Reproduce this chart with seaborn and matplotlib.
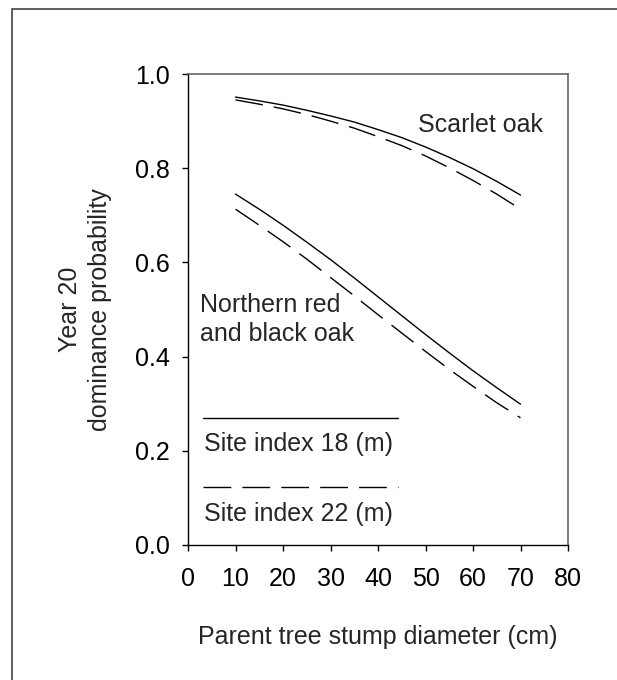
import matplotlib
matplotlib.use("Agg")
import matplotlib.pyplot as plt
import matplotlib.patches as mpatches
import seaborn as sns
import pandas as pd

diameter = [10, 15, 20, 25, 30, 35, 40, 45, 50, 55, 60, 65, 70]
scarlet_si18 = [0.951, 0.943, 0.934, 0.923, 0.911, 0.898, 0.882, 0.865, 0.845, 0.823, 0.799, 0.772, 0.743]
scarlet_si22 = [0.945, 0.936, 0.926, 0.914, 0.900, 0.885, 0.867, 0.848, 0.826, 0.801, 0.774, 0.745, 0.713]
redblack_si18 = [0.745, 0.713, 0.679, 0.643, 0.606, 0.567, 0.527, 0.487, 0.447, 0.408, 0.370, 0.334, 0.299]
redblack_si22 = [0.713, 0.679, 0.644, 0.607, 0.568, 0.529, 0.489, 0.450, 0.411, 0.373, 0.337, 0.302, 0.270]

x_ticks = [0, 10, 20, 30, 40, 50, 60, 70, 80]
y_ticks = [0.0, 0.2, 0.4, 0.6, 0.8, 1.0]
legend_labels = ["Site index 18 (m)", "Site index 22 (m)"]

rows = []
for sp, si, vals in [("Scarlet", "18", scarlet_si18), ("Scarlet", "22", scarlet_si22),
                     ("RedBlack", "18", redblack_si18), ("RedBlack", "22", redblack_si22)]:
    for d, v in zip(diameter, vals):
        rows.append({"diameter": d, "prob": v, "species": sp, "site": si, "grp": sp + si})
df = pd.DataFrame(rows)

sns.set_style("white")
plt.rcParams["font.family"] = ["Liberation Sans", "DejaVu Sans"]

FS = 18

fig = plt.figure(figsize=(6.17, 6.8), dpi=100)
ax = fig.add_axes([188/617, 1-545/680, (568-188)/617, (545-74)/680])

sns.lineplot(data=df, x="diameter", y="prob", style="site", units="grp", estimator=None,
             color="black", dashes={"18": "", "22": (20, 8)}, linewidth=1.0,
             legend=False, ax=ax, sort=False)

ax.set_xlim(0, 80)
ax.set_ylim(0, 1.0)
ax.set_xticks(x_ticks)
ax.set_yticks(y_ticks)
ax.set_xticklabels([str(t) for t in x_ticks])
ax.set_yticklabels([f"{t:.1f}" for t in y_ticks])
ax.tick_params(axis="both", direction="out", length=4, width=1, labelsize=FS, colors="black",
               left=True, bottom=True)
ax.tick_params(axis="x", pad=12)
ax.tick_params(axis="y", pad=9)

for s in ["left", "bottom"]:
    ax.spines[s].set_color("black")
    ax.spines[s].set_linewidth(1.0)
for s in ["top", "right"]:
    ax.spines[s].set_color("#666666")
    ax.spines[s].set_linewidth(1.2)

ax.set_xlabel("Parent tree stump diameter (cm)", fontsize=FS, labelpad=24)
ax.set_ylabel("Year 20\ndominance probability", fontsize=FS, labelpad=16.5, linespacing=1.3)

ax.text(48.4, 0.892, "Scarlet oak", fontsize=FS, va="center", ha="left")
ax.text(2.6, 0.478, "Northern red\nand black oak", fontsize=FS, va="center", ha="left", linespacing=1.25)

# manual legend
ax.plot([3.2, 44.2], [0.27, 0.27], color="black", linewidth=1.0)
ax.text(3.4, 0.214, legend_labels[0], fontsize=FS, va="center", ha="left")
ax.plot([3.2, 44.2], [0.123, 0.123], color="black", linewidth=1.0, dashes=(20, 8))
ax.text(3.4, 0.066, legend_labels[1], fontsize=FS, va="center", ha="left")

# outer frame
fig.patches.append(mpatches.Rectangle((12/617, -0.05), 1.2, (1-9/680)+0.05, transform=fig.transFigure,
                                      fill=False, edgecolor="#444444", linewidth=1.2))

fig.savefig("out.png", dpi=100)
